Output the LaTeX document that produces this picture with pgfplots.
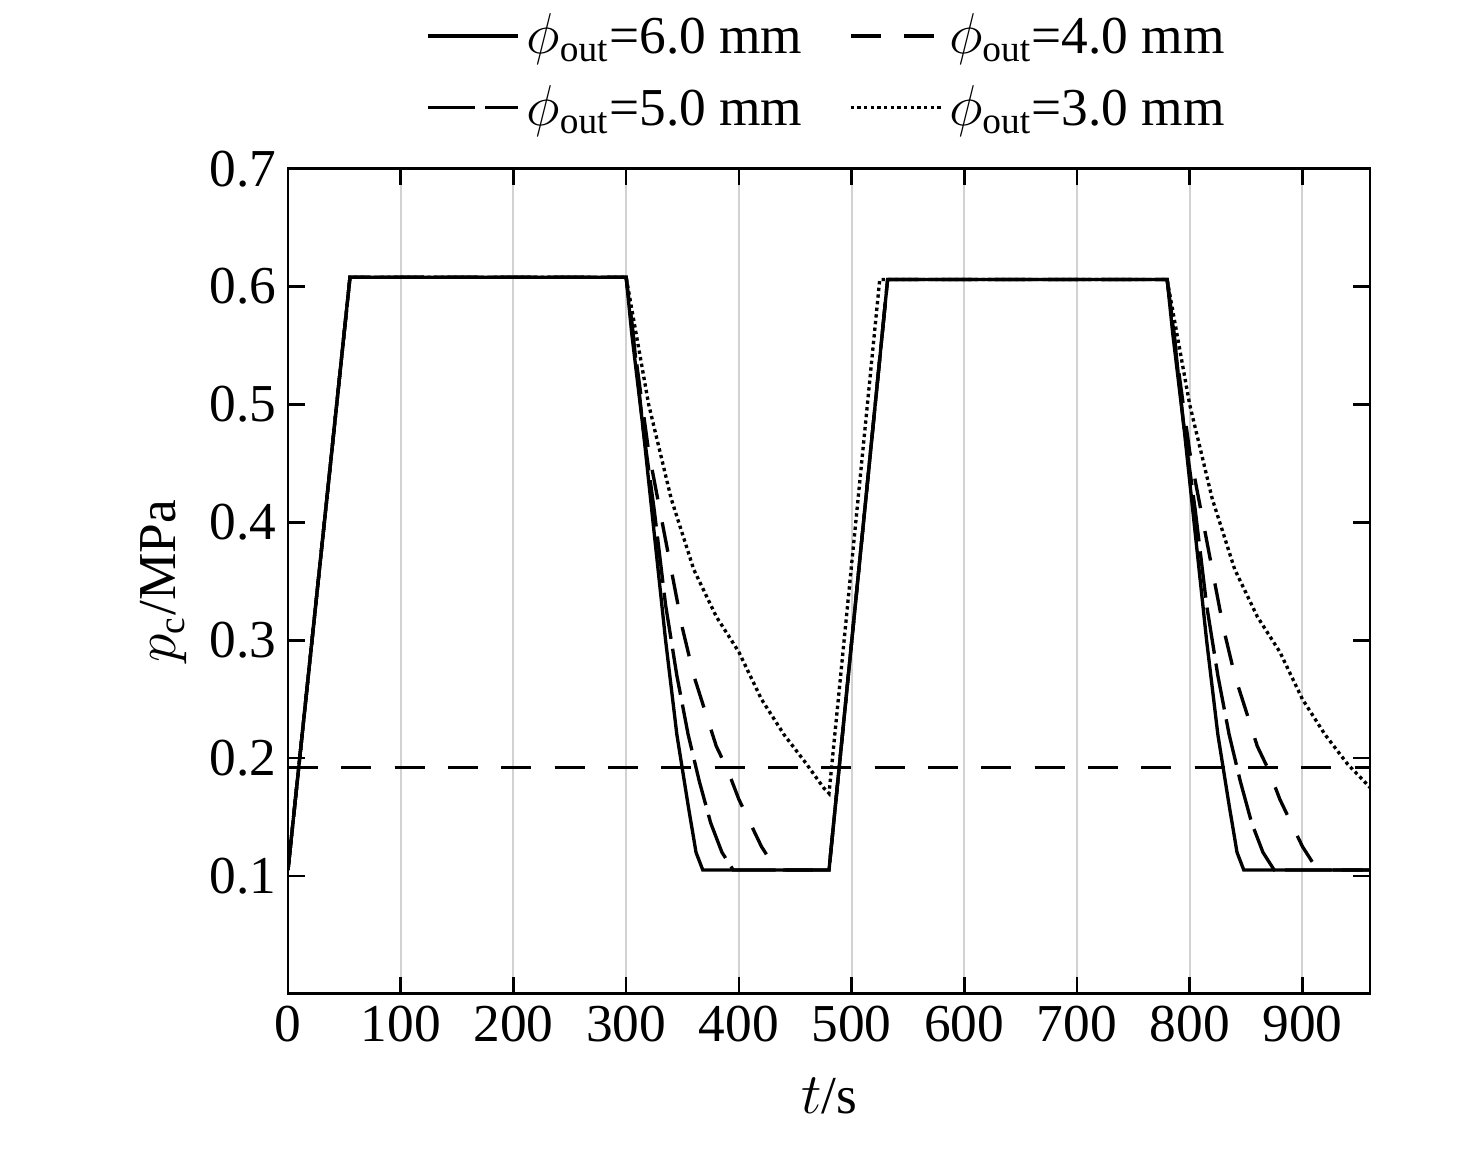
\documentclass[border=0pt]{standalone}
\usepackage{pgfplots}
\pgfplotsset{compat=1.18}
\usepackage{fontspec}
\setmainfont{Liberation Serif}
\usetikzlibrary{calc}
\begin{document}
\begin{tikzpicture}[font=\fontsize{16}{19}\selectfont]
\begin{axis}[name=ax, scale only axis, width=324.6pt, height=247.5pt,
 xmin=0, xmax=960, ymin=0, ymax=0.7,
 xtick={0,100,...,900}, ytick={0.1,0.2,...,0.7},
 yticklabel style={/pgf/number format/.cd,fixed,precision=1,fixed zerofill},
 /pgf/number format/assume math mode=true,
 tick align=inside, tick pos=both, major tick length=5pt,
 xmajorgrids, grid style={gray!35, line width=0.6pt},
 axis line style={line width=0.8pt}, tick style={black, line width=0.8pt},
 xlabel={$t$/s}, ylabel={$p_{\mathrm{c}}$/MPa},
 xlabel style={yshift=-4pt},
 legend columns=2, legend style={draw=none, at={(0.5,1.03)}, anchor=south, row sep=4pt,
   /tikz/every even column/.append style={column sep=12pt}},
 legend image code/.code={\draw[#1] (0cm,0cm) -- (0.95cm,0cm);},
 legend cell align=left, no marks,
 every axis plot/.append style={black, line width=1pt}]
\addplot[solid] coordinates {(0,0.105)(55,0.608)(300,0.608)(305,0.56)(315,0.48)(325,0.39)(335,0.30)(345,0.22)(355,0.16)(362,0.12)(368,0.105)(480,0.105)(532,0.606)(780,0.606)(785,0.56)(795,0.48)(805,0.39)(815,0.30)(825,0.22)(835,0.16)(842,0.12)(848,0.105)(960,0.105)};
\addlegendentry{$\phi_{\mathrm{out}}$=6.0 mm}
\addplot[dash pattern=on 9pt off 7pt] coordinates {(0,0.105)(55,0.608)(300,0.608)(310,0.53)(320,0.46)(330,0.41)(340,0.36)(350,0.31)(360,0.27)(370,0.24)(380,0.21)(390,0.19)(400,0.165)(410,0.145)(420,0.125)(430,0.11)(440,0.105)(480,0.105)(532,0.606)(780,0.606)(790,0.53)(800,0.46)(810,0.41)(820,0.36)(830,0.31)(840,0.27)(850,0.24)(860,0.21)(870,0.19)(880,0.165)(890,0.145)(900,0.125)(910,0.11)(920,0.105)(960,0.105)};
\addlegendentry{$\phi_{\mathrm{out}}$=4.0 mm}
\addplot[dash pattern=on 14pt off 3pt] coordinates {(0,0.105)(55,0.608)(300,0.608)(305,0.57)(315,0.48)(325,0.41)(335,0.33)(345,0.27)(355,0.22)(365,0.18)(375,0.145)(385,0.12)(395,0.105)(480,0.105)(532,0.606)(780,0.606)(785,0.57)(795,0.48)(805,0.41)(815,0.33)(825,0.27)(835,0.22)(845,0.18)(855,0.145)(865,0.12)(875,0.105)(960,0.105)};
\addlegendentry{$\phi_{\mathrm{out}}$=5.0 mm}
\addplot[densely dotted] coordinates {(0,0.105)(55,0.608)(300,0.608)(320,0.50)(340,0.42)(360,0.36)(380,0.32)(400,0.29)(420,0.25)(440,0.22)(460,0.195)(475,0.175)(480,0.17)(525,0.606)(780,0.606)(800,0.50)(820,0.42)(840,0.36)(860,0.32)(880,0.29)(900,0.25)(920,0.22)(940,0.195)(955,0.18)(960,0.175)};
\addlegendentry{$\phi_{\mathrm{out}}$=3.0 mm}
\addplot[dash pattern=on 9pt off 7pt, forget plot] coordinates {(0,0.192)(960,0.192)};
\end{axis}
\path[use as bounding box] ($(ax.south west)+(-86.4pt,-47.7pt)$) rectangle ($(ax.north east)+(31.8pt,47.4pt)$);
\end{tikzpicture}
\end{document}
